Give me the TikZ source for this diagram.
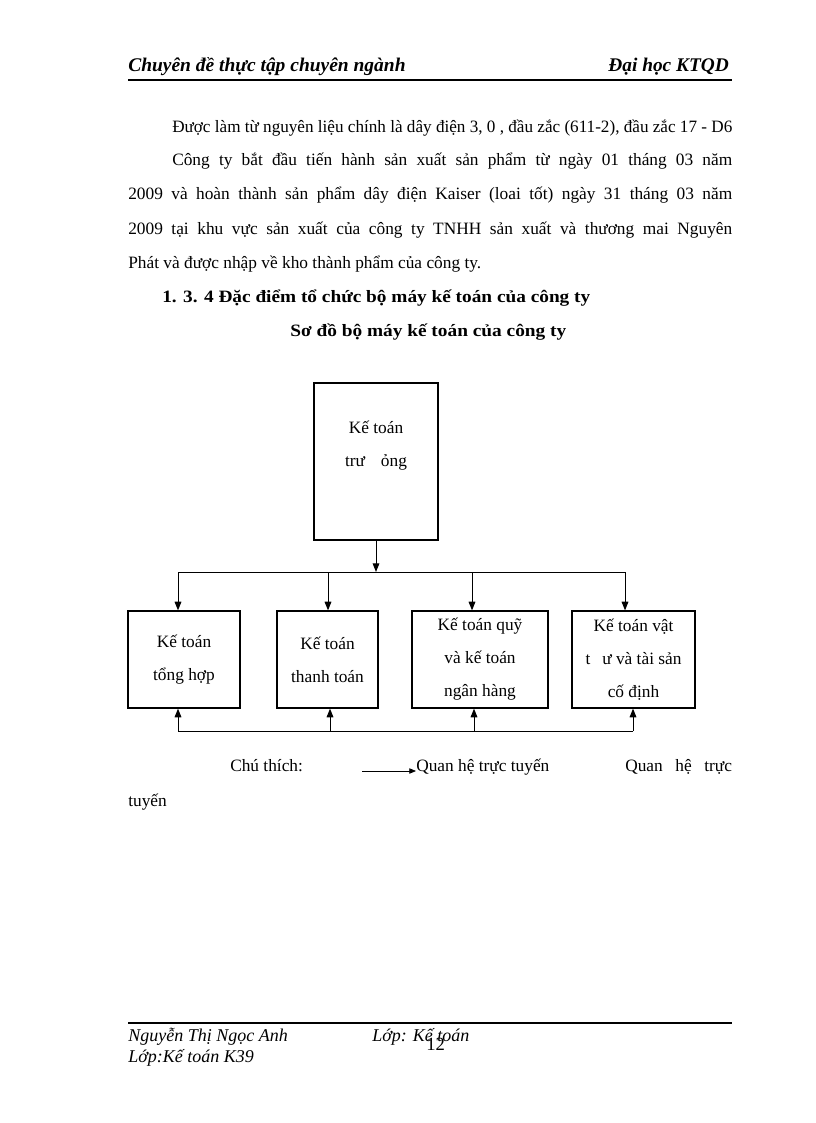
\documentclass[tikz,border=0pt]{standalone}
\usepackage{fontspec}
\setmainfont{Liberation Serif}
\usetikzlibrary{arrows.meta,positioning,calc}

% fit a line of text to a given width
\newcommand{\fitw}[2]{\resizebox{#1}{\height}{#2}}
\newcommand{\justw}[2]{\makebox[#1][s]{#2}}

\begin{document}
\begin{tikzpicture}[
    x=0.75pt, y=-0.75pt,
    >={Triangle[length=6.5pt,width=5pt]},
    body text/.style={inner sep=0pt, anchor=base west, font=\fontsize{13}{15}\selectfont},
    head text/.style={body text, font=\fontsize{14.5}{16}\selectfont\bfseries\itshape},
    foot text/.style={body text, font=\fontsize{13.5}{15}\selectfont\itshape},
    org box/.style={draw, line width=0.9pt, inner sep=0pt, align=center,
        font=\fontsize{13}{24.75}\selectfont, minimum height=72.75pt},
    flow arrow/.style={->, line width=0.75pt},
    bus line/.style={line width=0.75pt},
]

% Page
\useasboundingbox (0,0) rectangle (816,1123);

% Header
\node[head text] (hdrleft) at (128,72) {\fitw{208pt}{Chuyên đề thực tập chuyên ngành}};
\node[head text, anchor=base east] (hdrright) at (729,72) {Đại học KTQD};
\coordinate (hl1) at (128,80);
\coordinate (hl2) at (732,80);
\draw[line width=1.6pt] (hl1) -- (hl2);

% Paragraph
\node[body text] (para1) at (172,133) {\fitw{420pt}{Được làm từ nguyên liệu chính là dây điện 3, 0 , đầu zắc (611-2), đầu zắc 17 - D6}};
\node[body text] (para2) at (172,166) {\justw{420pt}{Công ty bắt đầu tiến hành sản xuất sản phẩm từ ngày 01 tháng 03 năm}};
\node[body text] (para3) at (128,200) {\justw{453pt}{2009 và hoàn thành sản phẩm dây điện Kaiser (loai tốt) ngày 31 tháng 03 năm}};
\node[body text] (para4) at (128,234) {\justw{453pt}{2009 tại khu vực sản xuất của công ty TNHH sản xuất và thương mai Nguyên}};
\node[body text] (para5) at (128,268) {Phát và được nhập về kho thành phẩm của công ty.};

% Headings
\node[body text, font=\fontsize{13}{15}\selectfont\bfseries] (sect) at (162,302) {\fitw{321pt}{1. 3. 4 Đặc điểm tổ chức bộ máy kế toán của công ty}};
\node[body text, font=\fontsize{13}{15}\selectfont\bfseries] (title) at (290,336) {\fitw{207pt}{Sơ đồ bộ máy kế toán của công ty}};

% Chief accountant
\node[org box, minimum width=93pt, minimum height=117.75pt] (chief) at (376,461.5) {};
\node[inner sep=0pt, align=center, font=\fontsize{13}{24.75}\selectfont] (chieflbl) at (376,446) {Kế toán\\trư\hspace{12pt}ỏng};

% Staff boxes
\node[org box, minimum width=84pt] (ktth) at (184,659.5) {Kế toán\\tổng hợp};
\node[org box, minimum width=75.75pt] (kttt) at (327.5,659.5) {Kế toán\\thanh toán};
\node[org box, minimum width=102pt] (ktq) at (480,659.5) {Kế toán quỹ\\và kế toán\\ngân hàng};
\node[org box, minimum width=92.25pt] (ktvt) at (633.5,659.5) {Kế toán vật\\t\hspace{9pt}ư và tài sản\\cố định};

% Top bus
\coordinate (tbus) at (376,572);
\coordinate (t1) at (178,572);
\coordinate (t2) at (328,572);
\coordinate (t3) at (472,572);
\coordinate (t4) at (625,572);
\draw[flow arrow] (chief.south) -- (tbus);
\draw[bus line] (t1) -- (t4);
\draw[flow arrow] (t1) -- (t1 |- ktth.north);
\draw[flow arrow] (t2) -- (t2 |- kttt.north);
\draw[flow arrow] (t3) -- (t3 |- ktq.north);
\draw[flow arrow] (t4) -- (t4 |- ktvt.north);

% Bottom bus
\coordinate (b1) at (178,731);
\coordinate (b2) at (330,731);
\coordinate (b3) at (474,731);
\coordinate (b4) at (633,731);
\draw[bus line] (b1) -- (b4);
\draw[flow arrow] (b1) -- (b1 |- ktth.south);
\draw[flow arrow] (b2) -- (b2 |- kttt.south);
\draw[flow arrow] (b3) -- (b3 |- ktq.south);
\draw[flow arrow] (b4) -- (b4 |- ktvt.south);

% Legend
\node[body text] (legnote) at (230,771) {Chú thích:};
\coordinate (la1) at (362,771);
\node[body text] (legline) at (416,771) {Quan hệ trực tuyến};
\draw[->, line width=0.6pt, >={Triangle[length=5pt,width=4pt]}] (la1) -- (legline.base west);
\node[body text] (legtwo) at (625,771) {\justw{80pt}{Quan hệ trực}};
\node[body text] (legwrap) at (128,806) {tuyến};

% Footer
\coordinate (fl1) at (128,1023);
\coordinate (fl2) at (732,1023);
\draw[line width=1.4pt] (fl1) -- (fl2);
\node[foot text] (author) at (128,1041) {Nguyễn Thị Ngọc Anh};
\node[foot text] (klass) at (372,1041) {Lớp: Kế toán};
\node[body text, font=\fontsize{14}{15}\selectfont] (pageno) at (426,1050) {12};
\node[foot text] (klass2) at (128,1062) {Lớp:Kế toán K39};

\end{tikzpicture}
\end{document}
